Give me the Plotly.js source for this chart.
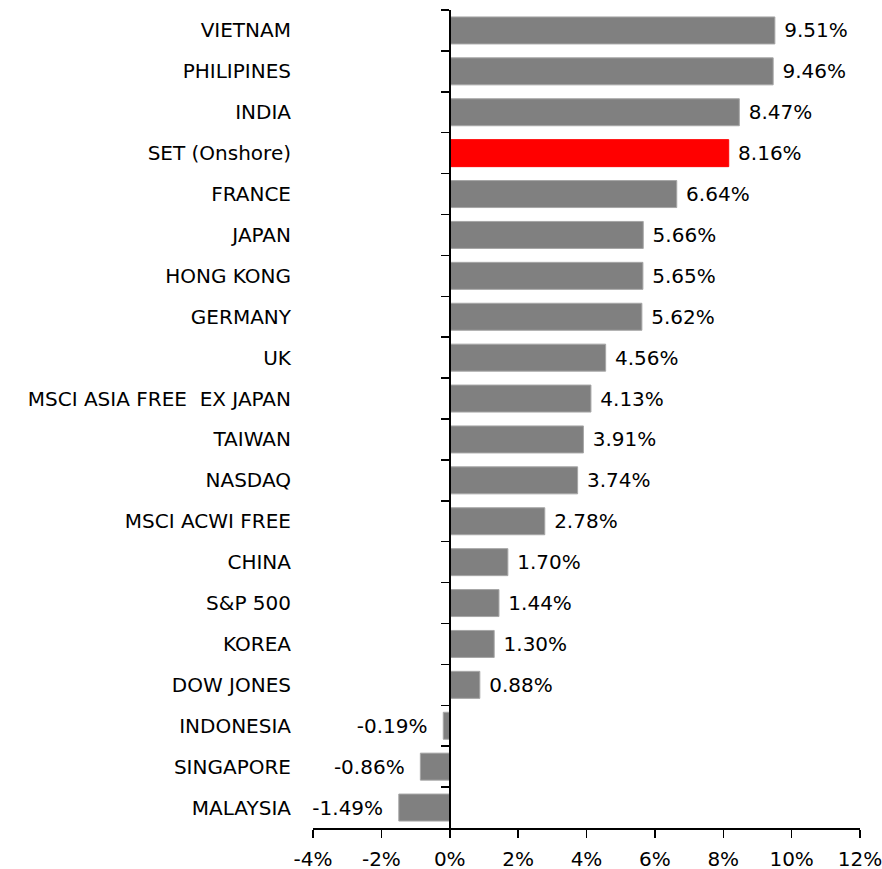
<!DOCTYPE html>
<html>
<head>
<meta charset="utf-8">
<script src="https://cdn.plot.ly/plotly-3.0.1.min.js"></script>
<style>html,body{margin:0;padding:0;background:#fff;}#chart{width:882px;height:869px;}</style>
</head>
<body>
<div id="chart"></div>
<script>
const categories = ["VIETNAM","PHILIPINES","INDIA","SET (Onshore)","FRANCE","JAPAN","HONG KONG","GERMANY","UK","MSCI ASIA FREE \u00a0EX JAPAN","TAIWAN","NASDAQ","MSCI ACWI FREE","CHINA","S&P 500","KOREA","DOW JONES","INDONESIA","SINGAPORE","MALAYSIA"];
const returns = [9.51, 9.46, 8.47, 8.16, 6.64, 5.66, 5.65, 5.62, 4.56, 4.13, 3.91, 3.74, 2.78, 1.70, 1.44, 1.30, 0.88, -0.19, -0.86, -1.49];
const highlight = "SET (Onshore)";
const xTickVals = [-4, -2, 0, 2, 4, 6, 8, 10, 12];
const xTickText = ["-4%", "-2%", "0%", "2%", "4%", "6%", "8%", "10%", "12%"];

const barColors = categories.map(c => c === highlight ? "#ff0000" : "#808080");
const lineColors = categories.map(c => c === highlight ? "#ff0000" : "#a6a6a6");
const labels = returns.map(v => v >= 0 ? "\u00a0" + v.toFixed(2) + "%" : v.toFixed(2) + "%\u00a0\u00a0");

const font = {family: "DejaVu Sans, Verdana, sans-serif", size: 20, color: "#000"};

const traces = [
  {
    type: "bar", orientation: "h",
    x: returns, y: categories,
    marker: {color: barColors, line: {color: lineColors, width: 1}},
    text: labels, textposition: "outside", textfont: font,
    constraintext: "none", cliponaxis: false, hoverinfo: "x+y",
    xaxis: "x", yaxis: "y"
  },
  {
    type: "bar", orientation: "h",
    x: returns, y: categories,
    marker: {color: "rgba(0,0,0,0)"}, hoverinfo: "skip", showlegend: false,
    xaxis: "x", yaxis: "y2"
  }
];

const layout = {
  width: 882, height: 869,
  margin: {l: 313, r: 22, t: 10, b: 41},
  paper_bgcolor: "#fff", plot_bgcolor: "#fff",
  showlegend: false,
  bargap: 0.34,
  font: font,
  xaxis: {
    range: [-4, 12], tickvals: xTickVals, ticktext: xTickText,
    showgrid: false, zeroline: false,
    showline: true, linecolor: "#000", linewidth: 1.5,
    ticks: "outside", ticklen: 8, tickwidth: 1.5, tickcolor: "#000",
    tickfont: font, ticklabeloverflow: "allow", ticklabelstandoff: 4, fixedrange: true
  },
  yaxis: {
    type: "category", autorange: "reversed",
    showgrid: false, zeroline: false, showline: false,
    ticks: "", ticklabelstandoff: 21, tickfont: font, fixedrange: true
  },
  yaxis2: {
    type: "category", autorange: "reversed", overlaying: "y", matches: "y",
    anchor: "free", position: 0.25, side: "left",
    showgrid: false, zeroline: false,
    showline: true, linecolor: "#000", linewidth: 2,
    ticks: "outside", tickson: "boundaries", ticklen: 8, tickwidth: 1.5, tickcolor: "#000",
    showticklabels: false, fixedrange: true
  }
};

Plotly.newPlot("chart", traces, layout, {displayModeBar: false, staticPlot: true});
</script>
</body>
</html>
